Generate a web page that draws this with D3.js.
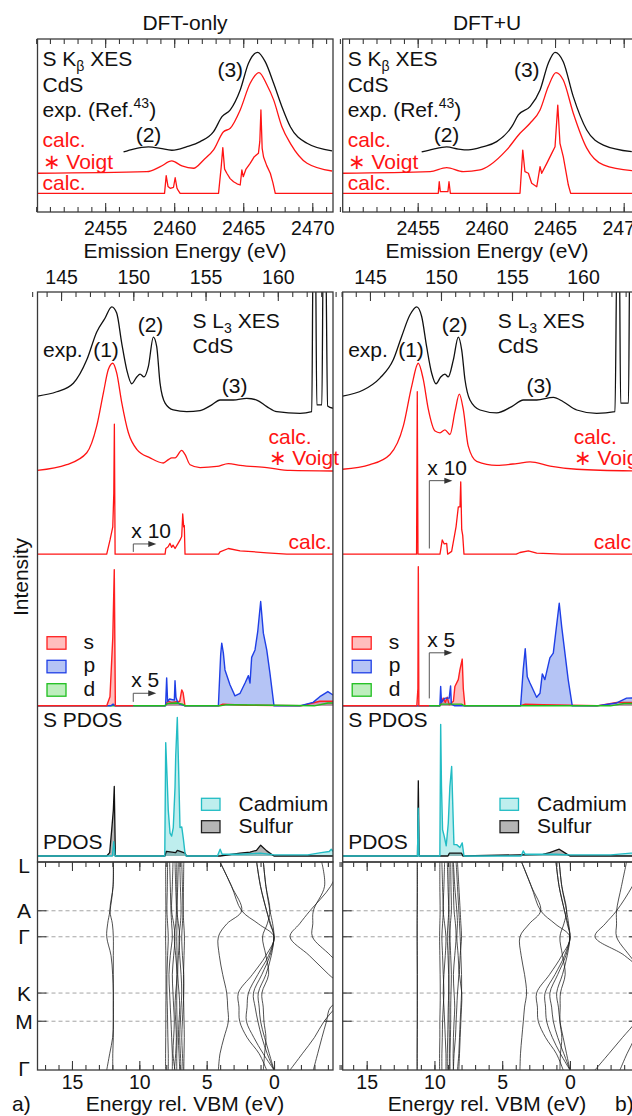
<!DOCTYPE html>
<html>
<head>
<meta charset="utf-8">
<script src="https://d3js.org/d3.v7.min.js"></script>
<style>
body { margin: 0; background: #fff; }
svg { display: block; font-family: "Liberation Sans", Arial, sans-serif; }
</style>
</head>
<body>
<div id="chart"></div>
<script>
// ---------- data ----------
// S K-beta XES, [emission energy eV, intensity]
var kbExpA = [[2456.33,0],[2457.05,1.7],[2458.14,2.9],[2458.99,2.1],[2459.83,1.0],[2460.92,3.1],[2461.88,6.0],[2462.85,11.7],[2463.46,20.4],[2464.06,24.3],[2464.78,35.8],[2465.38,51.3],[2466.04,57.6],[2466.59,52.2],[2467.2,39.7],[2467.8,26.2],[2468.41,14.6],[2469.62,5.0],[2471.43,0.6]];
var kbVoigtA = [[2450.1,0],[2458.02,0.9],[2458.99,3.8],[2459.83,7.1],[2460.56,4.2],[2461.4,2.9],[2462.13,7.7],[2462.85,13.5],[2463.57,24.0],[2464.06,26.0],[2464.78,36.6],[2465.5,52.0],[2466.14,58.2],[2466.72,51.0],[2467.2,42.4],[2467.8,26.9],[2468.41,17.3],[2469.62,5.8],[2471.43,1.3]];
var kbCalcA = [[2450.1,0],[2459.3,0],[2459.42,10.2],[2459.55,4],[2459.71,2.9],[2459.95,3.5],[2460.07,9.0],[2460.2,3],[2460.3,1.5],[2460.43,0],[2463.21,0],[2463.4,15],[2463.52,26.4],[2463.65,14],[2463.81,11.6],[2464.05,8.5],[2464.3,6.7],[2464.55,5.5],[2464.78,4.8],[2464.9,13.5],[2465.0,9.6],[2465.2,14],[2465.5,17.3],[2465.8,21.2],[2466.1,23.1],[2466.2,30],[2466.28,48.2],[2466.37,26],[2466.47,21],[2466.7,16],[2466.96,11.6],[2467.15,6],[2467.32,0],[2471.5,0]];
var kbExpB = [[2455.29,0],[2456.14,1.7],[2457.11,2.9],[2457.96,1.7],[2458.69,1.2],[2459.78,3.1],[2460.75,6.0],[2461.85,14.6],[2462.33,21.4],[2463.18,26.2],[2463.91,35.8],[2464.51,51.3],[2465.0,57.6],[2465.6,52.2],[2466.33,32.0],[2467.31,12.7],[2468.52,4.0],[2470.59,0.2]];
var kbVoigtB = [[2449.54,0],[2455.9,0.9],[2457.11,3.2],[2458.32,0.9],[2459.54,1.9],[2460.27,4.8],[2461.48,13.5],[2462.45,23.1],[2463.18,28.9],[2463.91,36.6],[2464.51,50.1],[2465.07,58.2],[2465.6,53.9],[2466.33,34.7],[2467.31,14.5],[2468.52,4.8],[2470.59,1.5],[2471.02,1.3]];
var kbCalcB = [[2449.54,0],[2456.5,0],[2456.57,6.7],[2456.65,1],[2457.2,1],[2457.28,6.7],[2457.38,0],[2462.45,0],[2462.65,25.0],[2462.81,12.5],[2463.06,11.6],[2463.3,5.8],[2463.67,3.8],[2463.91,15.4],[2464.03,11.6],[2464.4,17.3],[2464.76,23.1],[2465.0,26.9],[2465.2,51.0],[2465.36,28.9],[2465.6,21.2],[2465.97,4.8],[2466.14,0],[2471.02,0]];

// S L3 XES, [emission energy eV, intensity]
var l3ExpA = [[143.37,2.75],[144.7,3.5],[145.85,5.0],[146.78,9.1],[147.47,14.0],[148.04,16.4],[148.51,18.4],[148.85,17.3],[149.2,12.0],[149.55,7.3],[149.89,4.9],[150.24,6.1],[150.47,6.6],[150.74,6.1],[151.04,7.9],[151.39,13.1],[151.62,11.4],[151.85,5.0],[152.2,1.5],[152.77,0.3],[153.7,0],[154.62,0.2],[155.43,1.2],[156.0,2.05],[156.92,2.05],[157.85,2.35],[158.54,2.05],[159.24,0.9],[159.93,0],[161.54,-0.3],[162.35,0],[162.45,30],[162.6,30],[162.7,1.2],[163.05,1.2],[163.15,30],[163.3,30],[163.45,1.0],[163.82,0.6]];
var l3VoigtA = [[143.36,0.1],[145.39,1.1],[146.78,3.2],[147.47,7.9],[147.93,13.7],[148.27,17.8],[148.58,18.9],[148.85,17.2],[149.2,12.0],[149.66,6.7],[150.24,3.8],[151.16,2.3],[152.08,1.4],[152.43,2.0],[152.66,2.3],[152.89,2.3],[153.35,3.6],[153.58,2.9],[153.93,1.1],[154.62,0.6],[155.78,0.8],[156.58,1.3],[157.39,1.0],[159.24,0.6],[160.85,0.1],[163.82,0]];
var l3CalcA = [[143.37,0],[148.16,0],[148.39,2.5],[148.58,4.8],[148.65,10.7],[148.69,22.8],[148.74,0],[152.2,0],[152.25,1.0],[152.41,1.3],[152.54,1.9],[152.65,1.2],[152.75,1.6],[152.89,1.0],[153.1,1.9],[153.24,2.5],[153.35,3.1],[153.42,7.05],[153.49,4.8],[153.53,5.0],[153.58,0],[155.9,0],[156.0,0.4],[156.58,1.0],[157.39,0.6],[159.24,0.25],[160.62,0],[163.82,0]];
var l3ExpB = [[143.08,2.75],[144.53,3.8],[145.7,5.9],[146.64,9.1],[147.23,13.2],[147.82,17.0],[148.29,18.4],[148.64,16.7],[148.99,11.4],[149.35,6.7],[149.65,4.9],[149.98,6.1],[150.28,6.6],[150.51,6.1],[150.87,9.1],[151.22,13.1],[151.46,10.8],[151.69,5.6],[152.04,2.05],[152.75,0.3],[153.92,-0.2],[154.98,0.9],[155.8,2.05],[156.74,2.05],[157.91,2.5],[158.61,1.75],[159.56,0.3],[160.96,-0.3],[162.25,0],[162.4,30],[162.55,30],[162.65,1.5],[163.2,1.5],[163.3,30],[163.85,30]];
var l3VoigtB = [[143.08,0.3],[145.0,1.1],[146.41,2.9],[147.35,7.9],[147.94,14.9],[148.4,18.9],[148.75,16.1],[149.11,10.8],[149.58,7.0],[149.93,6.7],[150.28,7.2],[150.63,6.4],[150.99,10.5],[151.29,13.5],[151.57,10.8],[151.92,4.35],[152.51,1.7],[153.92,1.0],[155.33,1.3],[156.27,1.6],[157.68,0.85],[159.56,0.3],[163.85,0]];
var l3CalcB = [[143.08,0],[148.28,0],[148.33,28.5],[148.38,0],[149.93,0],[150.09,2.5],[150.23,1.8],[150.4,1.9],[150.47,0],[150.75,0.5],[151.06,4.8],[151.22,8.3],[151.34,8.3],[151.39,12.7],[151.46,4.3],[151.53,3.3],[151.62,0],[155.3,0],[155.56,0.3],[156.15,0.6],[156.74,0.2],[158.5,0],[163.85,0]];

// S PDOS s / p / d, [energy rel. VBM eV, intensity]
var sA = [[17.56,0],[12.42,0],[12.18,1.6],[11.97,12.0],[11.86,23.9],[11.78,0],[8.1,0],[7.9,0.8],[7.6,0.6],[7.0,0.8],[6.85,2.8],[6.75,2.3],[6.61,0],[4.1,0],[3.8,0.3],[2.0,0.1],[-2.0,0],[-3.4,0.8],[-4.38,0.8]];
var pA = [[17.56,0],[12.1,0],[11.95,0.3],[11.8,0],[8.05,0],[7.97,4.9],[7.9,0.8],[7.75,1.2],[7.4,1.0],[7.35,4.4],[7.28,1.5],[7.15,0.6],[7.0,0.3],[6.6,0],[4.13,0],[3.96,9.0],[3.88,11.0],[3.76,9.25],[3.64,6.3],[3.27,3.7],[2.9,1.75],[2.52,2.2],[2.15,4.0],[1.9,5.3],[1.78,4.0],[1.66,8.5],[1.41,9.8],[1.21,13.0],[0.99,18.3],[0.79,12.75],[0.54,9.8],[0.3,5.7],[0.0,0],[-1.9,0],[-2.9,0.6],[-3.4,1.6],[-4.0,2.5],[-4.38,1.9]];
var dA = [[17.56,0],[8.1,0],[7.9,0.4],[7.2,0.5],[6.8,0.3],[6.6,0],[4.0,0],[3.5,0.2],[0,0.1],[-3.0,0],[-4.0,0.5],[-4.38,0.5]];
var sB = [[16.77,0],[11.3,0],[11.22,3],[11.19,24.4],[11.15,0],[9.6,0],[9.35,1.35],[9.2,0.6],[9.06,1.5],[8.91,0.2],[8.6,0.8],[8.49,3.4],[8.24,4.6],[8.12,6.3],[7.95,8.2],[7.87,3.0],[7.75,0],[3.7,0],[3.3,0.3],[2.0,0.2],[-2.0,0],[-3.45,0.6],[-5.0,0.6]];
var pB = [[16.77,0],[9.6,0],[9.54,3.4],[9.48,0.6],[9.23,1.35],[8.91,1.35],[8.81,3.5],[8.75,0.3],[8.5,0],[3.64,0],[3.45,6.3],[3.3,10.0],[3.15,5.1],[2.95,4.0],[2.46,1.5],[2.21,2.2],[2.04,5.6],[1.85,4.6],[1.48,8.4],[1.23,9.25],[0.98,14.2],[0.79,18.0],[0.61,13.9],[0.37,9.25],[0.13,4.6],[-0.17,0],[-1.97,0],[-3.45,0.5],[-4.18,1.35],[-5.0,1.4]];
var dB = [[16.77,0],[9.6,0],[9.5,0.3],[8.0,0.3],[7.8,0],[-3.0,0],[-4.0,0.4],[-5.0,0.4]];

// element PDOS Cd / S
var cdA = [[17.56,0],[12.0,0],[11.9,2.5],[11.8,0],[8.11,0],[8.04,19.9],[7.94,13.9],[7.85,8.0],[7.72,4.0],[7.6,3.5],[7.48,5.0],[7.35,12.0],[7.3,17.4],[7.18,24.3],[7.08,15.0],[6.98,5.0],[6.85,5.1],[6.73,3.0],[6.61,0.5],[6.53,0],[4.2,0],[4.0,1.2],[3.85,0.3],[2.5,0.3],[1.0,0.5],[0,0.2],[-2.5,0.2],[-3.5,0.6],[-4.1,0.8],[-4.25,1.2],[-4.38,0.8]];
var sulA = [[17.56,0],[12.42,0],[12.2,0.6],[12.05,4.6],[11.93,8.0],[11.86,12.2],[11.78,0],[8.1,0],[8.0,0.8],[7.3,0.6],[7.18,1.0],[6.6,0.5],[6.5,0],[4.0,0],[2.52,0.5],[1.78,0.7],[1.3,1.0],[0.99,1.9],[0.54,0.9],[0,0],[-4.38,0]];
var cdB = [[16.77,0],[11.25,0],[11.2,8.4],[11.15,0],[9.6,0],[9.54,23.1],[9.48,12.2],[9.4,4.6],[9.28,3.5],[9.13,1.8],[8.98,5.7],[8.86,12.2],[8.73,15.7],[8.66,10.0],[8.56,2.0],[8.36,2.0],[8.12,1.5],[7.95,2.3],[7.82,0],[3.6,0],[3.45,0.9],[3.3,0.3],[1.0,0.3],[0,0.2],[-3.0,0.2],[-4.5,0.5],[-5.0,0.5]];
var sulB = [[16.77,0],[11.25,0],[11.19,13.2],[11.13,0],[9.0,0],[8.9,0.5],[8.0,0.5],[7.9,0],[2.0,0.3],[1.5,0.6],[0.79,1.2],[0.4,0.6],[0,0],[-5.0,0]];

// band structure: k path and band energies (eV rel. VBM) at kSample
var kPoints = [0, 0.876, 1.343, 2.354, 2.86, 3.736];
var kLabels = ["L", "A", "Γ", "K", "M", "Γ"];
var kSample = [0, 0.438, 0.876, 1.11, 1.343, 1.68, 2.02, 2.354, 2.607, 2.86, 3.152, 3.444, 3.736];
var bandsA = [
  [11.93,11.95,12.18,12.35,12.42,12.1,11.98,11.93,11.93,11.93,11.98,12.2,12.42],
  [11.93,11.95,12.18,12.0,11.93,11.93,11.93,11.93,11.93,11.93,11.93,11.97,11.97],
  [8.05,8.04,8.03,8.04,8.05,8.03,8.02,8.02,8.03,8.03,8.04,8.05,8.05],
  [7.9,7.92,7.95,7.9,7.85,7.9,7.95,7.95,7.92,7.9,7.88,7.85,7.85],
  [7.75,7.7,7.65,7.6,7.55,7.7,7.8,7.75,7.7,7.65,7.6,7.55,7.55],
  [7.5,7.55,7.6,7.45,7.35,7.45,7.55,7.5,7.45,7.4,7.45,7.5,7.35],
  [7.35,7.3,7.25,7.3,7.4,7.3,7.2,7.3,7.35,7.3,7.25,7.3,7.4],
  [7.22,7.22,7.2,7.2,7.22,7.2,7.2,7.22,7.22,7.2,7.2,7.22,7.22],
  [7.1,7.15,7.2,7.1,7.0,7.1,7.15,7.05,7.0,7.05,7.1,7.05,7.0],
  [7.0,6.95,6.9,6.95,7.05,7.0,6.9,6.85,6.9,6.95,7.0,6.95,6.9],
  [6.85,6.8,6.75,6.8,6.85,6.8,6.7,6.7,6.75,6.8,6.85,6.8,6.75],
  [6.7,6.72,6.75,6.7,6.65,6.68,6.72,6.72,6.7,6.68,6.66,6.68,6.7],
  [4.01,3.15,2.40,3.5,4.13,4.06,3.81,3.51,3.44,3.39,3.71,4.01,4.13],
  [4.01,3.15,2.40,1.16,0.0,0.6,1.6,2.65,2.6,2.55,2.0,1.1,0.55],
  [1.29,1.0,0.55,0.3,0.0,0.4,1.2,1.9,2.0,2.05,1.5,0.8,0.0],
  [1.29,1.0,0.55,0.25,0.0,0.3,0.9,1.53,1.4,1.2,0.9,0.5,0.0],
  [0.79,0.6,0.3,0.1,0.0,0.2,0.6,1.17,1.1,1.0,0.7,0.35,0.0],
  [0.79,0.6,0.3,0.5,0.85,0.6,0.4,0.9,0.8,0.75,0.6,0.7,0.79],
  [-3.54,-3.75,-2.92,-2.88,-2.85,-4.2,-5.5,-6.0,-4.2,-3.9,-3.56,-3.24,-2.92],
  [-5.0,-4.2,-2.67,-1.9,-1.19,-2.62,-4.06,-5.5,-4.6,-3.72,-3.0,-2.1,-1.19]
];
var bandsB = [
  [11.27,11.27,11.27,11.27,11.27,11.27,11.27,11.27,11.27,11.27,11.27,11.27,11.27],
  [11.26,11.26,11.27,11.28,11.28,11.27,11.26,11.26,11.26,11.26,11.27,11.28,11.28],
  [9.6,9.6,9.58,9.6,9.62,9.6,9.58,9.57,9.58,9.6,9.6,9.62,9.62],
  [9.45,9.4,9.35,9.4,9.45,9.4,9.35,9.3,9.35,9.4,9.42,9.45,9.45],
  [9.25,9.3,9.35,9.25,9.15,9.2,9.3,9.35,9.3,9.25,9.2,9.15,9.15],
  [9.05,9.0,8.95,9.0,9.05,9.0,8.95,8.95,8.98,9.0,9.02,9.05,9.05],
  [8.92,8.92,8.93,8.92,8.9,8.92,8.93,8.93,8.92,8.92,8.9,8.9,8.9],
  [8.8,8.78,8.75,8.82,8.85,8.8,8.75,8.78,8.8,8.8,8.82,8.85,8.85],
  [8.65,8.6,8.55,8.45,8.4,8.5,8.6,8.55,8.5,8.55,8.6,8.62,8.6],
  [8.6,8.5,8.35,8.3,8.35,8.25,8.2,8.3,8.35,8.4,8.45,8.55,8.6],
  [8.4,8.3,8.2,8.15,8.1,8.05,8.0,8.0,8.05,8.1,8.15,8.2,8.3],
  [8.3,8.2,8.1,8.05,8.0,8.1,8.15,7.98,8.0,8.05,8.1,8.15,8.2],
  [3.57,2.85,2.16,3.0,3.69,3.6,3.35,3.2,3.35,3.44,3.55,3.65,3.69],
  [3.57,2.85,2.16,1.1,0.0,0.6,1.5,2.46,2.4,2.34,1.8,1.0,0.5],
  [1.03,0.8,0.4,0.2,0.0,0.4,1.1,1.84,1.8,1.72,1.3,0.7,0.0],
  [1.03,0.8,0.4,0.15,0.0,0.3,0.9,1.48,1.35,1.23,0.9,0.45,0.0],
  [0.79,0.6,0.25,0.1,0.0,0.2,0.55,0.98,0.85,0.74,0.5,0.25,0.0],
  [0.79,0.6,0.25,0.45,0.74,0.55,0.35,0.7,0.72,0.74,0.6,0.7,0.74],
  [-4.18,-3.8,-3.44,-3.44,-3.44,-4.4,-5.5,-6.0,-5.5,-5.2,-4.8,-4.21,-3.69],
  [-5.5,-4.6,-3.44,-2.6,-1.85,-4.03,-5.5,-6.0,-5.5,-4.9,-3.88,-2.87,-1.85]
];

// tick values
var kbMajor = [2455, 2460, 2465, 2470];
var kbMinor = d3.range(2450, 2473);
var l3Major = [145, 150, 155, 160];
var l3Minor = d3.range(143, 165);
var vbmMajor = [15, 10, 5, 0];
var vbmMinor = d3.range(-5, 18);

// ---------- layout ----------
var W = 632, H = 1116;
var FS = 21, TS = 19.5;          // text / tick label font sizes
var KB = { top: 39, bot: 212 };
var MID = { top: 292, bot: 862 };
var BAND = { top: 862, bot: 1070 };
var KOFF = { exp: 34.7, voigt: 22.4, calc: 10.8 };
var MOFF = { exp: 79, voigt: 68.6, calc: 54, spd: 27.4, pdos: 1.05 };
var RED = "#ff1414", INK = "#111", FRAME = "#3a3a3a";

var panels = [
  { x0: 37.5, x1: 333, kb: [2450.1, 2471.5], l3: [143.37, 163.82], vbm: [17.56, -4.38],
    title: "DFT-only", titleX: 185, tag: "a)", tagX: 12,
    kbExp: kbExpA, kbVoigt: kbVoigtA, kbCalc: kbCalcA, kbLab: [2458.14, 2464.06],
    l3Exp: l3ExpA, l3Voigt: l3VoigtA, l3Calc: l3CalcA, l3Lab: [148.11, 151.19, 157.01],
    x10: { e: 150.0, lo: 0.4, hi: 1.8 }, x5: { e: 10.45, lo: 0.7, hi: 2.2 },
    s: sA, p: pA, d: dA, cd: cdA, sul: sulA, bands: bandsA, legX: 164, kLabels: true },
  { x0: 342.7, x1: 637.7, kb: [2449.54, 2471.02], l3: [143.08, 163.85], vbm: [16.77, -5.0],
    title: "DFT+U", titleX: 487, tag: "b)", tagX: 615,
    kbExp: kbExpB, kbVoigt: kbVoigtB, kbCalc: kbCalcB, kbLab: [2457.1, 2462.94],
    l3Exp: l3ExpB, l3Voigt: l3VoigtB, l3Calc: l3CalcB, l3Lab: [147.89, 150.96, 156.92],
    x10: { e: 149.18, lo: 1.0, hi: 12.9 }, x5: { e: 10.38, lo: 1.3, hi: 9.3 },
    s: sB, p: pB, d: dB, cd: cdB, sul: sulB, bands: bandsB, legX: 157.3, kLabels: false }
];

var svg = d3.select("#chart").append("svg").attr("width", W).attr("height", H);
var defs = svg.append("defs");

// ---------- helpers ----------
function trace(g, pts, x, y, off, o) {
  var cv = o.smooth ? d3.curveMonotoneX : d3.curveLinear;
  if (o.fill) {
    g.append("path").datum(pts)
      .attr("d", d3.area().x(d => x(d[0])).y0(y(off)).y1(d => y(off + d[1])).curve(cv))
      .attr("fill", o.fill).attr("stroke", "none");
  }
  if (o.stroke) {
    g.append("path").datum(pts)
      .attr("d", d3.line().x(d => x(d[0])).y(d => y(off + d[1])).curve(cv))
      .attr("fill", "none").attr("stroke", o.stroke)
      .attr("stroke-width", o.w || 1.3).attr("stroke-linejoin", "round");
  }
}

function rich(g, x, y, parts, fill, anchor) {
  var t = g.append("text").attr("x", x).attr("y", y).attr("fill", fill || INK)
    .attr("font-size", FS).attr("text-anchor", anchor || "start");
  var cur = 0;
  parts.forEach(function (pt) {
    var sp = t.append("tspan").text(pt[0]);
    var want = pt[1] === "sub" ? 5 : pt[1] === "sup" ? -9 : 0;
    if (pt[1]) sp.attr("font-size", 14);
    if (want !== cur) { sp.attr("dy", want - cur); cur = want; }
  });
  return t;
}

function hAxis(g, scale, y, orient, major, minor, showLabels, pad) {
  var make = orient === "top" ? d3.axisTop : d3.axisBottom;
  var a1 = g.append("g").attr("transform", "translate(0," + y + ")")
    .call(make(scale).tickValues(minor).tickSize(-5).tickFormat(""));
  var a2 = g.append("g").attr("transform", "translate(0," + y + ")")
    .call(make(scale).tickValues(major).tickSize(-9).tickPadding(pad)
      .tickFormat(showLabels ? d3.format("d") : ""));
  [a1, a2].forEach(function (a) {
    a.select(".domain").remove();
    a.attr("font-size", TS).attr("font-family", null);
    a.selectAll("line").attr("stroke", FRAME).attr("stroke-width", 1.1);
    a.selectAll("text").attr("fill", INK);
  });
}

function clipRect(id, x, y, w, h) {
  defs.append("clipPath").attr("id", id).append("rect")
    .attr("x", x).attr("y", y).attr("width", w).attr("height", h);
  return "url(#" + id + ")";
}

function elbow(g, x, yLo, yHi, len) {
  g.append("path").attr("d", "M" + x + "," + yLo + "V" + yHi + "H" + (x + len - 6))
    .attr("fill", "none").attr("stroke", "#555").attr("stroke-width", 1);
  g.append("path").attr("d", "M" + (x + len) + "," + yHi + "l-8,-3v6z").attr("fill", "#333");
}

function plain(g, x, y, s, anchor) {
  return g.append("text").attr("x", x).attr("y", y).attr("text-anchor", anchor || "start")
    .attr("font-size", FS).attr("fill", INK).text(s);
}

// ---------- panels ----------
panels.forEach(function (P, i) {
  var w = P.x1 - P.x0;
  var g = svg.append("g");
  var xk = d3.scaleLinear().domain(P.kb).range([P.x0, P.x1]);
  var xl = d3.scaleLinear().domain(P.l3).range([P.x0, P.x1]);
  var xv = d3.scaleLinear().domain(P.vbm).range([P.x0, P.x1]);
  var yk = d3.scaleLinear().domain([0, 100]).range([KB.bot, KB.top]);
  var ym = d3.scaleLinear().domain([0, 100]).range([MID.bot, MID.top]);
  var yb = d3.scaleLinear().domain([0, kPoints[kPoints.length - 1]]).range([BAND.top, BAND.bot]);

  plain(g, P.titleX, 30, P.title, "middle");

  // ----- K-beta panel -----
  var gk = g.append("g").attr("clip-path", clipRect("ck" + i, P.x0, KB.top, w, KB.bot - KB.top));
  trace(gk, P.kbCalc, xk, yk, KOFF.calc, { stroke: RED });
  trace(gk, P.kbVoigt, xk, yk, KOFF.voigt, { stroke: RED, smooth: true });
  trace(gk, P.kbExp, xk, yk, KOFF.exp, { stroke: INK, smooth: true });
  hAxis(g, xk, KB.top, "top", kbMajor, kbMinor, false, 4);
  hAxis(g, xk, KB.bot, "bottom", kbMajor, kbMinor, true, 9);
  g.append("rect").attr("x", P.x0).attr("y", KB.top).attr("width", w).attr("height", KB.bot - KB.top)
    .attr("fill", "none").attr("stroke", FRAME).attr("stroke-width", 1.3);
  rich(g, P.x0 + 5, 65.5, [["S K"], ["β", "sub"], [" XES"]]);
  rich(g, P.x0 + 5, 92, [["CdS"]]);
  rich(g, P.x0 + 5, 117, [["exp. (Ref."], ["43", "sup"], [")"]]);
  rich(g, P.x0 + 5, 147, [["calc."]], RED);
  rich(g, P.x0 + 5, 168.5, [["∗ Voigt"]], RED);
  rich(g, P.x0 + 5, 190, [["calc."]], RED);
  rich(g, xk(P.kbLab[0]), 142, [["(2)"]], INK, "middle");
  rich(g, xk(P.kbLab[1]), 76.5, [["(3)"]], INK, "middle");
  plain(g, P.titleX, 258, "Emission Energy (eV)", "middle");

  // ----- L3 XES + PDOS panel -----
  var gm = g.append("g").attr("clip-path", clipRect("cm" + i, P.x0, MID.top, w, MID.bot - MID.top));
  trace(gm, P.l3Calc, xl, ym, MOFF.calc, { stroke: RED });
  trace(gm, P.l3Voigt, xl, ym, MOFF.voigt, { stroke: RED, smooth: true });
  trace(gm, P.l3Exp, xl, ym, MOFF.exp, { stroke: INK, smooth: true });

  // S PDOS (s, p, d)
  var spd = [
    { d: P.d, line: "#1fbf1f", fill: "rgba(40,200,40,0.30)" },
    { d: P.p, line: "#1f3fe6", fill: "rgba(60,100,230,0.38)" },
    { d: P.s, line: "#ff2020", fill: "rgba(255,40,40,0.30)" }
  ];
  spd.forEach(function (c) { trace(gm, c.d, xv, ym, MOFF.spd, { fill: c.fill }); });
  var xs = xv(P.x5.e);
  var gL = gm.append("g").attr("clip-path", clipRect("cl" + i, P.x0, MID.top, xs - P.x0, MID.bot - MID.top));
  var gR = gm.append("g").attr("clip-path", clipRect("cr" + i, xs, MID.top, P.x1 - xs, MID.bot - MID.top));
  spd.forEach(function (c) { trace(gL, c.d, xv, ym, MOFF.spd, { stroke: c.line, w: 1.4 }); });
  spd.slice().reverse().forEach(function (c) { trace(gR, c.d, xv, ym, MOFF.spd, { stroke: c.line, w: 1.4 }); });

  // element PDOS
  trace(gm, P.sul, xv, ym, MOFF.pdos, { fill: "rgba(90,90,90,0.45)" });
  trace(gm, P.cd, xv, ym, MOFF.pdos, { fill: "rgba(40,200,200,0.30)" });
  trace(gm, P.sul, xv, ym, MOFF.pdos, { stroke: INK, w: 1.3 });
  trace(gm, P.cd, xv, ym, MOFF.pdos, { stroke: "#22bcc4", w: 1.4 });

  hAxis(g, xl, MID.top, "top", l3Major, l3Minor, true, 8);
  g.append("rect").attr("x", P.x0).attr("y", MID.top).attr("width", w).attr("height", MID.bot - MID.top)
    .attr("fill", "none").attr("stroke", FRAME).attr("stroke-width", 1.3);

  // arrows for scaled parts
  var ax = xl(P.x10.e);
  elbow(g, ax, ym(MOFF.calc + P.x10.lo), ym(MOFF.calc + P.x10.hi), 23);
  rich(g, ax - 2, ym(MOFF.calc + P.x10.hi) - 6, [["x 10"]]);
  elbow(g, xs, ym(MOFF.spd + P.x5.lo), ym(MOFF.spd + P.x5.hi), 23);
  rich(g, xs - 2, ym(MOFF.spd + P.x5.hi) - 6, [["x 5"]]);

  // labels
  rich(g, P.x0 + 5.5, 357, [["exp."]]);
  rich(g, xl(P.l3Lab[0]), 357, [["(1)"]], INK, "middle");
  rich(g, xl(P.l3Lab[1]), 332, [["(2)"]], INK, "middle");
  rich(g, xl(P.l3Lab[2]), 393, [["(3)"]], INK, "middle");
  rich(g, P.x0 + 155, 328, [["S L"], ["3", "sub"], [" XES"]]);
  rich(g, P.x0 + 155, 353, [["CdS"]]);
  rich(g, P.x0 + 231, 444, [["calc."]], RED);
  rich(g, P.x0 + 231, 464.5, [["∗ Voigt"]], RED);
  rich(g, P.x0 + 251, 549, [["calc."]], RED);
  rich(g, P.x0 + 5.5, 727, [["S PDOS"]]);
  rich(g, P.x0 + 5.5, 848.5, [["PDOS"]]);

  // legends
  var legS = [["s", 636.7], ["p", 660.3], ["d", 683.7]];
  legS.forEach(function (L, j) {
    var c = spd[2 - j];
    g.append("rect").attr("x", P.x0 + 9.5).attr("y", L[1]).attr("width", 19).attr("height", 12.5)
      .attr("fill", c.fill).attr("stroke", c.line).attr("stroke-width", 1.3);
    plain(g, P.x0 + 46, L[1] + 12, L[0]);
  });
  var legE = [["Cadmium", 798.3, "rgba(40,200,200,0.30)", "#22bcc4"], ["Sulfur", 820.7, "rgba(90,90,90,0.45)", "#222"]];
  legE.forEach(function (L) {
    g.append("rect").attr("x", P.x0 + P.legX).attr("y", L[1]).attr("width", 18.5).attr("height", 12)
      .attr("fill", L[2]).attr("stroke", L[3]).attr("stroke-width", 1.3);
    plain(g, P.x0 + P.legX + 37, L[1] + 12.5, L[0]);
  });

  // ----- band structure -----
  var gb = g.append("g").attr("clip-path", clipRect("cb" + i, P.x0, BAND.top, w, BAND.bot - BAND.top));
  kPoints.slice(1, -1).forEach(function (k) {
    gb.append("line").attr("x1", P.x0).attr("x2", P.x1).attr("y1", yb(k)).attr("y2", yb(k))
      .attr("stroke", "#9a9a9a").attr("stroke-width", 0.9).attr("stroke-dasharray", "4,3");
    g.append("line").attr("x1", P.x0).attr("x2", P.x0 + 9).attr("y1", yb(k)).attr("y2", yb(k))
      .attr("stroke", FRAME).attr("stroke-width", 1.1);
    g.append("line").attr("x1", P.x1 - 9).attr("x2", P.x1).attr("y1", yb(k)).attr("y2", yb(k))
      .attr("stroke", FRAME).attr("stroke-width", 1.1);
  });
  var bandLine = d3.line().x(d => xv(d[1])).y(d => yb(d[0])).curve(d3.curveCatmullRom.alpha(0.5));
  P.bands.forEach(function (b) {
    gb.append("path").datum(kSample.map((k, j) => [k, b[j]]))
      .attr("d", bandLine).attr("fill", "none").attr("stroke", "#1a1a1a")
      .attr("stroke-width", 0.85).attr("stroke-opacity", 0.9);
  });
  hAxis(g, xv, BAND.top, "top", vbmMajor, vbmMinor, false, 4);
  hAxis(g, xv, BAND.bot, "bottom", vbmMajor, vbmMinor, true, 5.5);
  g.append("rect").attr("x", P.x0).attr("y", BAND.top).attr("width", w).attr("height", BAND.bot - BAND.top)
    .attr("fill", "none").attr("stroke", FRAME).attr("stroke-width", 1.3);
  if (P.kLabels) {
    kPoints.forEach(function (k, j) {
      var yy = yb(k) + (j === 0 ? 3 : j === kPoints.length - 1 ? -2 : 0);
      plain(g, 24, yy, kLabels[j], "middle").attr("dy", "0.36em");
    });
  }
  plain(g, P.titleX, 1111, "Energy rel. VBM (eV)", "middle");
  plain(g, P.tagX, 1111, P.tag);
});

// y label
svg.append("text").attr("transform", "translate(27.5,577) rotate(-90)").attr("text-anchor", "middle")
  .attr("font-size", FS).attr("fill", INK).text("Intensity");
</script>
</body>
</html>
